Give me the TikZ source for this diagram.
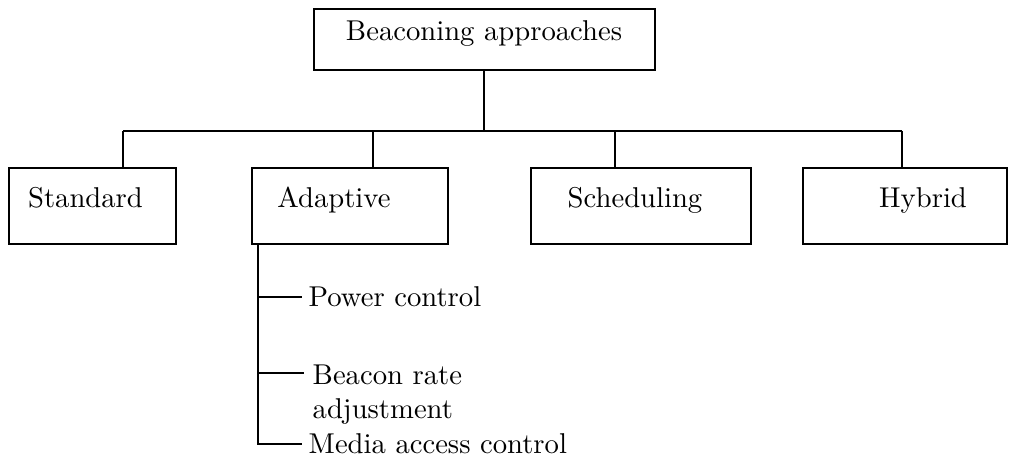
\documentclass[tikz,border=0pt]{standalone}
\usepackage{tikz}

\begin{document}
\begin{tikzpicture}[x=0.349pt, y=-0.349pt, line width=0.7pt,
  box/.style={draw, inner sep=2pt, text height=7pt, text depth=6pt},
  cat/.style={box, minimum height=26.5pt},
  padl/.style={execute at begin node={\hspace*{#1}}},
  padr/.style={execute at end node={\hspace*{#1}}},
  leaf/.style={inner xsep=2pt, inner ysep=0pt, anchor=west, align=left}]
\useasboundingbox (0,0) rectangle (1009,459);
% top level
\node[box, minimum width=119pt, minimum height=21.3pt] (root) at (484,39.5) {Beaconing approaches};
% categories
\node[cat, padr=4.9pt, minimum width=58.3pt] (std) at (92.5,206) {Standard};
\node[cat, padr=11.2pt, minimum width=68.4pt] (adp) at (350,206) {Adaptive};
\node[cat, padr=4.2pt, minimum width=76.8pt] (sch) at (641,206) {Scheduling};
\node[cat, padl=12.6pt, minimum width=71.2pt] (hyb) at (905,206) {Hybrid};
% bus
\coordinate (j1) at (123,131);
\coordinate (j2) at (373,131);
\coordinate (j3) at (615,131);
\coordinate (j4) at (902,131);
\draw (root.south) -- (root.south |- j1);
\draw (j1) -- (j4);
\foreach \i/\n in {1/std, 2/adp, 3/sch, 4/hyb}
  \draw (j\i) -- (j\i |- \n.north);
% adaptive branches
\coordinate (a0) at (258,244);
\coordinate (b2) at (304,373);
\node[leaf] (pc) at (302,297) {Power control};
\node[leaf, anchor=north west] (brate) at (306,363.5) {Beacon rate\\adjustment};
\node[leaf] (mac) at (302,444) {Media access control};
\draw (a0) |- (mac.west);
\draw (a0 |- pc.west) -- (pc.west);
\draw (a0 |- b2) -- (b2);
\end{tikzpicture}
\end{document}
